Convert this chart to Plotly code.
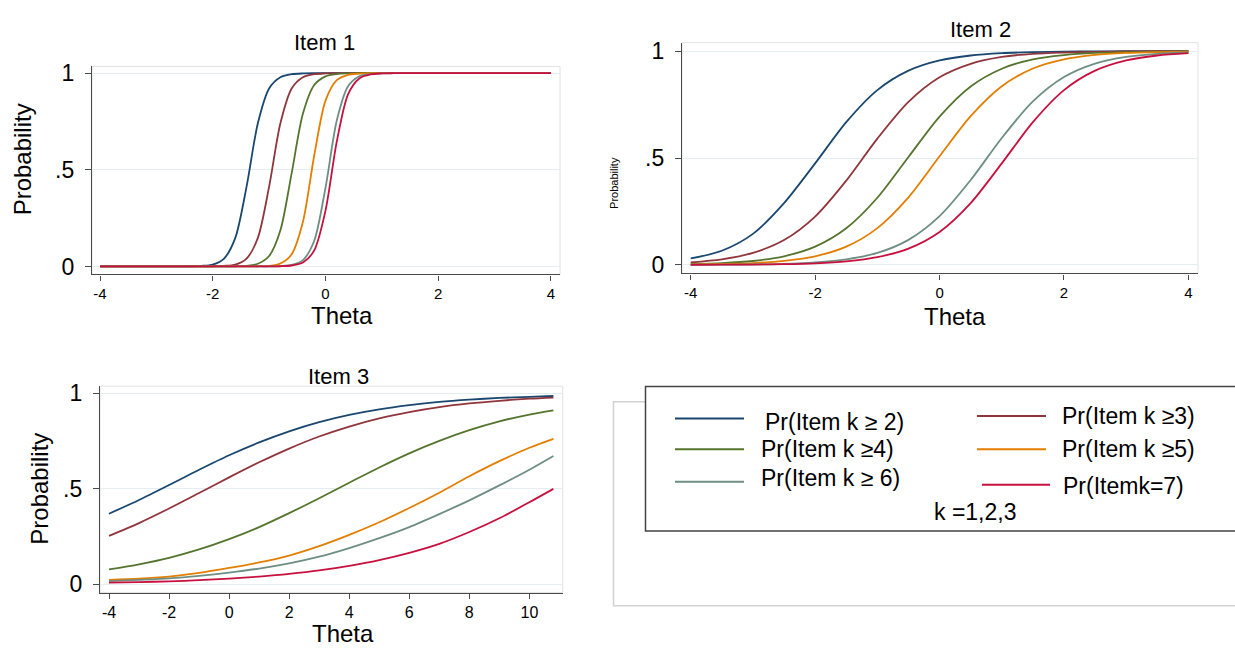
import plotly.graph_objects as go

# ---------------- data ----------------
series_names = ["Pr(Item k \u2265 2)", "Pr(Item k \u22653)", "Pr(Item k \u22654)",
                "Pr(Item k \u22655)", "Pr(Item k \u2265 6)", "Pr(Itemk=7)"]
colors = ["#1a476f", "#90353b", "#55752f", "#e37e00", "#6e8e84", "#c8103f"]

panel_titles = ["Item 1", "Item 2", "Item 3"]
x_title = "Theta"
y_title = "Probability"
y_tickvals = [0, 0.5, 1]
y_ticktext = ["0", ".5", "1"]
x_ticks_12 = [-4, -2, 0, 2, 4]
x_ticks_3 = [-4, -2, 0, 2, 4, 6, 8, 10]
legend_note = "k =1,2,3"

# Item 1
theta1 = [-4.0, -2.4, -2.2, -2.0, -1.8, -1.6, -1.4, -1.2, -1.0, -0.8, -0.6,
          -0.4, -0.2, 0.0, 0.2, 0.4, 0.6, 0.8, 1.0, 1.2, 4.0]
item1_ge2 = [0, 0.001, 0.003, 0.010, 0.041, 0.148, 0.413, 0.741, 0.921, 0.979, 0.995,
             0.999, 1, 1, 1, 1, 1, 1, 1, 1, 1]
item1_ge3 = [0, 0, 0, 0.001, 0.003, 0.010, 0.041, 0.148, 0.413, 0.741, 0.921,
             0.979, 0.995, 0.999, 1, 1, 1, 1, 1, 1, 1]
item1_ge4 = [0, 0, 0, 0, 0, 0.001, 0.003, 0.014, 0.054, 0.187, 0.483,
             0.791, 0.939, 0.984, 0.996, 0.999, 1, 1, 1, 1, 1]
item1_ge5 = [0, 0, 0, 0, 0, 0, 0, 0.001, 0.003, 0.015, 0.063,
             0.231, 0.574, 0.858, 0.964, 0.992, 0.998, 1, 1, 1, 1]
item1_ge6 = [0, 0, 0, 0, 0, 0, 0, 0, 0, 0.002, 0.008,
             0.033, 0.133, 0.407, 0.755, 0.932, 0.984, 0.996, 0.999, 1, 1]
item1_eq7 = [0, 0, 0, 0, 0, 0, 0, 0, 0, 0.001, 0.005,
             0.020, 0.083, 0.289, 0.646, 0.891, 0.973, 0.994, 0.999, 1, 1]

# Item 2
theta2 = [-4.0, -3.5, -3.0, -2.5, -2.0, -1.5, -1.0, -0.5, 0.0,
          0.5, 1.0, 1.5, 2.0, 2.5, 3.0, 3.5, 4.0]
item2_ge2 = [0.030, 0.066, 0.145, 0.289, 0.475, 0.668, 0.818, 0.909, 0.957,
             0.980, 0.991, 0.996, 0.998, 0.999, 1.0, 1.0, 1.0]
item2_ge3 = [0.012, 0.026, 0.056, 0.116, 0.226, 0.394, 0.591, 0.763, 0.878,
             0.941, 0.973, 0.988, 0.994, 0.997, 0.999, 1.0, 1.0]
item2_ge4 = [0.004, 0.008, 0.018, 0.040, 0.085, 0.171, 0.314, 0.505, 0.694,
             0.835, 0.918, 0.962, 0.982, 0.992, 0.996, 0.998, 0.999]
item2_ge5 = [0.002, 0.004, 0.008, 0.019, 0.040, 0.085, 0.172, 0.316, 0.508,
             0.696, 0.836, 0.919, 0.962, 0.983, 0.992, 0.996, 0.998]
item2_ge6 = [0.0005, 0.001, 0.002, 0.005, 0.012, 0.026, 0.056, 0.117, 0.228,
             0.397, 0.594, 0.765, 0.879, 0.942, 0.973, 0.988, 0.994]
item2_eq7 = [0.0003, 0.0007, 0.0015, 0.003, 0.007, 0.016, 0.036, 0.076, 0.154,
             0.289, 0.475, 0.668, 0.818, 0.909, 0.957, 0.980, 0.991]

# Item 3
theta3 = [-4, -3, -2, -1, 0, 1, 2, 3, 4, 5, 6, 7, 8, 9, 10, 10.8]
item3_ge2 = [0.370, 0.442, 0.520, 0.600, 0.676, 0.743, 0.801, 0.849,
             0.887, 0.916, 0.938, 0.955, 0.967, 0.976, 0.982, 0.986]
item3_ge3 = [0.254, 0.321, 0.397, 0.478, 0.560, 0.639, 0.711, 0.774,
             0.826, 0.869, 0.902, 0.928, 0.947, 0.961, 0.972, 0.978]
item3_ge4 = [0.078, 0.105, 0.139, 0.183, 0.237, 0.300, 0.373, 0.451,
             0.532, 0.612, 0.686, 0.751, 0.807, 0.853, 0.889, 0.911]
item3_ge5 = [0.024, 0.030, 0.041, 0.060, 0.086, 0.115, 0.151, 0.200,
             0.259, 0.325, 0.400, 0.480, 0.566, 0.645, 0.715, 0.762]
item3_ge6 = [0.017, 0.024, 0.032, 0.045, 0.062, 0.083, 0.110, 0.145,
             0.190, 0.242, 0.300, 0.368, 0.440, 0.518, 0.600, 0.672]
item3_eq7 = [0.009, 0.012, 0.016, 0.022, 0.030, 0.041, 0.055, 0.073,
             0.097, 0.127, 0.165, 0.212, 0.274, 0.346, 0.430, 0.500]

items = [
    (theta1, [item1_ge2, item1_ge3, item1_ge4, item1_ge5, item1_ge6, item1_eq7]),
    (theta2, [item2_ge2, item2_ge3, item2_ge4, item2_ge5, item2_ge6, item2_eq7]),
    (theta3, [item3_ge2, item3_ge3, item3_ge4, item3_ge5, item3_ge6, item3_eq7]),
]

# ---------------- layout helpers (pixel -> paper) ----------------
W, H = 1235, 650
FONT = "Liberation Sans, Arial, Helvetica, sans-serif"


def px(x):
    return x / W


def py(y):
    return 1 - y / H


AXIS_DARK = "#4a4a4a"
GRID = "#e4edf0"
FRAME = "#e2e2e2"

# panel boxes in pixels: (left, right, top, bottom), x range, y range
panels = [
    dict(box=(92, 560, 61.5, 273), xr=[-4.142, 4.16], yr=[-0.041, 1.035], xt=x_ticks_12, xfs=15),
    dict(box=(682, 1198, 37.3, 272), xr=[-4.14, 4.154], yr=[-0.040, 1.040], xt=x_ticks_12, xfs=15),
    dict(box=(100, 562.7, 386.7, 596.7), xr=[-4.3, 11.11], yr=[-0.043, 1.0376], xt=x_ticks_3, xfs=16),
]

fig = go.Figure()
layout = dict(
    width=W, height=H, margin=dict(l=0, r=0, t=0, b=0),
    paper_bgcolor="white", plot_bgcolor="white", showlegend=False,
    font=dict(family=FONT, color="#000000"),
)
shapes = []
annotations = []

for i, (p, (theta, curves)) in enumerate(zip(panels, items)):
    n = "" if i == 0 else str(i + 1)
    l, r, t, b = p["box"]
    layout["xaxis" + n] = dict(
        domain=[px(l), px(r)], range=p["xr"], anchor="y" + n,
        tickvals=p["xt"], ticktext=[str(v) for v in p["xt"]],
        showgrid=False, zeroline=False, showline=True, linecolor=AXIS_DARK, linewidth=1.3,
        ticks="outside", ticklen=5, tickcolor=AXIS_DARK, tickwidth=1.2,
        tickfont=dict(size=p["xfs"], family=FONT, color="#000"), ticklabelstandoff=0,
        fixedrange=True,
    )
    layout["yaxis" + n] = dict(
        domain=[py(b), py(t)], range=p["yr"], anchor="x" + n,
        tickvals=y_tickvals, ticktext=y_ticktext,
        showgrid=True, gridcolor=GRID, gridwidth=1, zeroline=False,
        showline=True, linecolor=AXIS_DARK, linewidth=1.3,
        ticks="outside", ticklen=6, tickcolor=AXIS_DARK, tickwidth=1.2,
        tickfont=dict(size=23, family=FONT, color="#000"), ticklabelstandoff=6,
        fixedrange=True,
    )
    shapes.append(dict(type="rect", xref="x%s domain" % n, yref="y%s domain" % n,
                       x0=0, x1=1, y0=0, y1=1, line=dict(color=FRAME, width=1),
                       layer="below"))
    for name, col, yv in zip(series_names, colors, curves):
        fig.add_trace(go.Scatter(
            x=theta, y=yv, mode="lines", name=name,
            line=dict(color=col, width=1.8, shape="spline", smoothing=0.8),
            xaxis="x" + n, yaxis="y" + n, hoverinfo="skip",
        ))

# panel titles
for text, (x, y) in zip(panel_titles, [(324, 37), (980, 23.5), (338, 377)]):
    annotations.append(dict(text=text, x=px(x), y=py(y), xref="paper", yref="paper",
                            showarrow=False, xanchor="center", yanchor="middle",
                            font=dict(size=22, family=FONT, color="#000")))
# x axis titles
for (x, y) in [(342, 315), (955, 316), (343, 638)]:
    annotations.append(dict(text=x_title, x=px(x), y=py(y), xref="paper", yref="paper",
                            showarrow=False, xanchor="center", yanchor="middle",
                            font=dict(size=24, family=FONT, color="#000")))
# y axis titles
for (x, y, s) in [(22, 156, 24), (614, 180, 11), (40, 491, 24)]:
    annotations.append(dict(text=y_title, x=px(x), y=py(y), xref="paper", yref="paper",
                            showarrow=False, xanchor="center", yanchor="middle", textangle=-90,
                            font=dict(size=s, family=FONT, color="#000")))

# ---------------- legend box (drawn) ----------------
shapes.append(dict(type="rect", xref="paper", yref="paper",
                   x0=px(613.5), x1=px(1245), y0=py(610), y1=py(402.5),
                   line=dict(color="#d2d2d2", width=1.5), fillcolor="white"))
shapes.append(dict(type="rect", xref="paper", yref="paper",
                   x0=px(645.5), x1=px(1245), y0=py(534), y1=py(387),
                   line=dict(color="#444444", width=1.5), fillcolor="white"))

legend_slots = [
    # (line x0, line x1, line y, text x, text y)
    (675, 744, 419.5, 763, 423),
    (977, 1046, 417, 1060, 417),
    (675, 744, 451, 759, 451),
    (977, 1046, 451, 1060, 451),
    (675, 744, 484, 759, 480),
    (982, 1050, 487, 1061, 488),
]
for name, col, (lx0, lx1, ly, tx, ty) in zip(series_names, colors, legend_slots):
    shapes.append(dict(type="line", xref="paper", yref="paper",
                       x0=px(lx0), x1=px(lx1), y0=py(ly), y1=py(ly),
                       line=dict(color=col, width=2)))
    annotations.append(dict(text=name, x=px(tx), y=py(ty), xref="paper", yref="paper",
                            showarrow=False, xanchor="left", yanchor="middle",
                            font=dict(size=23, family=FONT, color="#000")))
annotations.append(dict(text=legend_note, x=px(975), y=py(515), xref="paper", yref="paper",
                        showarrow=False, xanchor="center", yanchor="middle",
                        font=dict(size=23, family=FONT, color="#000")))

layout["shapes"] = shapes
layout["annotations"] = annotations
fig.update_layout(**layout)
fig.write_html("out.html", config={"displayModeBar": False},
               post_script="document.body.style.margin='0';document.body.style.overflow='hidden';")
